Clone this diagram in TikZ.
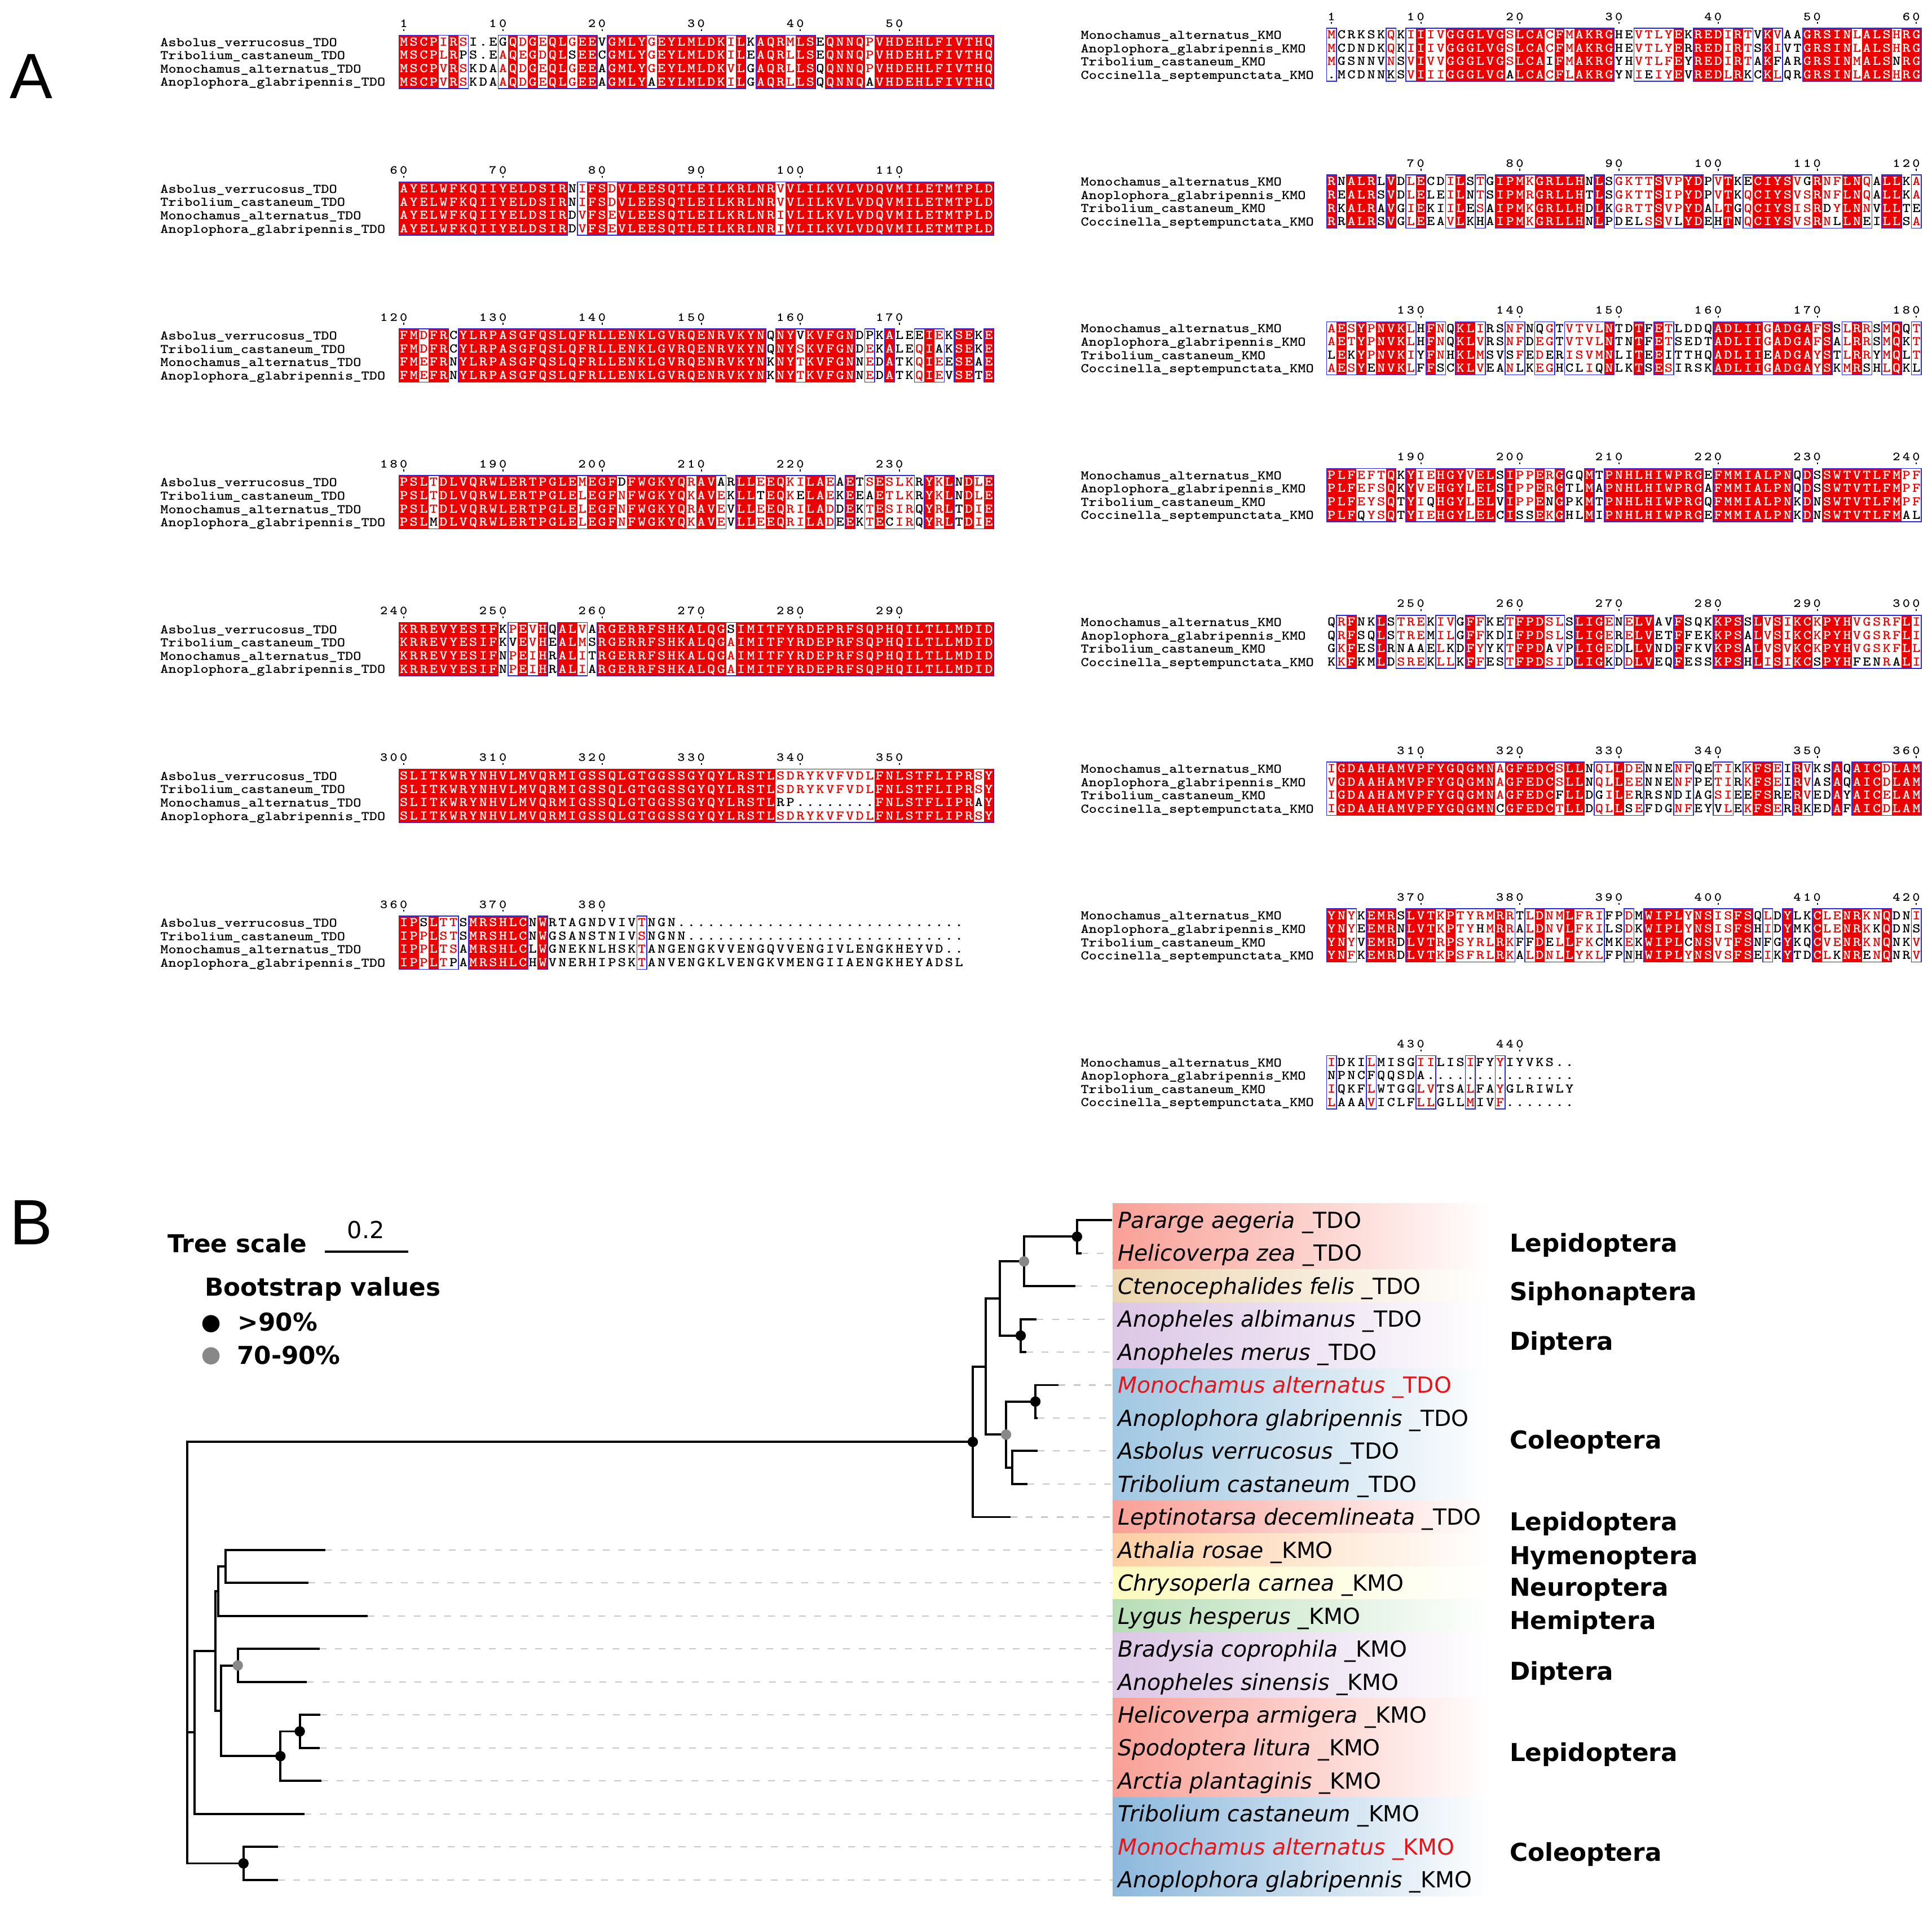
\documentclass[tikz,border=0pt]{standalone}
\usepackage{fontspec}
\setmainfont{DejaVu Sans}
\newfontfamily\panelfont{Liberation Sans}
\newfontfamily\resfont{lmmonolt10-bold}[Extension=.otf,FakeStretch=1.15]
\definecolor{alnred}{RGB}{238,0,0}
\definecolor{alnblue}{RGB}{40,40,235}
\colorlet{alnW}{white}
\colorlet{alnR}{alnred}
\colorlet{alnK}{black}
\definecolor{labred}{RGB}{232,20,25}
\definecolor{cLep}{RGB}{249,160,150}
\definecolor{cSip}{RGB}{236,214,176}
\definecolor{cDip}{RGB}{220,198,230}
\definecolor{cCol}{RGB}{160,199,226}
\definecolor{cColb}{RGB}{140,184,220}
\definecolor{cHym}{RGB}{253,206,162}
\definecolor{cNeu}{RGB}{252,250,190}
\definecolor{cHem}{RGB}{182,222,182}
\definecolor{bsgrey}{RGB}{136,136,136}
\definecolor{leadgrey}{RGB}{200,200,200}
\tikzset{
  alnfill/.style={fill=alnred},
  alnframe/.style={draw=alnblue, line width=0.7pt},
  alnrow/.style={anchor=base west, inner sep=0pt, outer sep=0pt, font=\resfont\fontsize{10.8}{10.8}\selectfont},
  alnname/.style={anchor=base west, inner sep=0pt, font=\resfont\fontsize{10.8}{10.8}\selectfont},
  alnnum/.style={anchor=base east, inner sep=0pt, font=\resfont\fontsize{10}{10}\selectfont},
  alntick/.style={line width=0.9pt},
  panel/.style={anchor=base west, inner sep=0pt, font=\panelfont\fontsize{52}{52}\selectfont},
  branch/.style={line width=1.8pt},
  leader/.style={leadgrey, line width=1pt, dash pattern=on 5.5pt off 7pt},
  splab/.style={anchor=base west, inner sep=0pt, font=\fontsize{18}{18}\selectfont},
  ordlab/.style={anchor=base west, inner sep=0pt, font=\bfseries\fontsize{20}{20}\selectfont},
  legbold/.style={anchor=base west, inner sep=0pt, font=\bfseries\fontsize{20}{20}\selectfont},
  bsblack/.style={circle, fill=black, inner sep=0pt, minimum size=8.4pt},
  bsgreyd/.style={circle, fill=bsgrey, inner sep=0pt, minimum size=8.4pt},
}
\newcommand\alnRect[5]{\path[#1] (#2,#4) rectangle (#3,#5);}
\newcommand\alnRow[4]{\node[alnrow] (#1) at (#2,#3) {#4};}
\ExplSyntaxOn
\str_new:N \l__aln_a_str
\str_new:N \l__aln_b_str
\str_new:N \l__aln_c_str
\str_new:N \l__aln_d_str
\tl_new:N \l__aln_ca_tl
\tl_new:N \l__aln_cb_tl
\tl_new:N \l__aln_cc_tl
\tl_new:N \l__aln_cd_tl
\tl_new:N \l__aln_ga_tl
\tl_new:N \l__aln_gb_tl
\tl_new:N \l__aln_gc_tl
\tl_new:N \l__aln_gd_tl
\tl_new:N \l__aln_ra_tl
\tl_new:N \l__aln_rb_tl
\tl_new:N \l__aln_rc_tl
\tl_new:N \l__aln_rd_tl
\tl_new:N \l__aln_xo_tl
\tl_new:N \l__aln_yo_tl
\tl_new:N \l__aln_x_tl
\tl_new:N \l__aln_xx_tl
\tl_new:N \l__aln_y_tl
\tl_new:N \l__aln_yy_tl
\tl_new:N \l__aln_name_tl
\int_new:N \l__aln_na_int
\int_new:N \l__aln_nb_int
\int_new:N \l__aln_nc_int
\int_new:N \l__aln_nd_int
\int_new:N \l__aln_max_int
\int_new:N \l__aln_cls_int
\int_new:N \l__aln_len_int
\int_new:N \l__aln_rs_int
\int_new:N \l__aln_bs_int
\int_new:N \g__aln_node_int
\tl_const:Nn \c__aln_dot_tl { . }
\cs_new:Npn \__aln_grp:n #1
  {
    \str_case:nnF {#1}
      {
        {I}{h} {L}{h} {V}{h} {M}{h}
        {F}{a} {Y}{a} {W}{a}
        {K}{b} {R}{b}
        {D}{c} {E}{c}
        {N}{n} {Q}{n}
        {S}{s} {T}{s}
      }
      {#1}
  }
\cs_generate_variant:Nn \__aln_grp:n { V }
\cs_new:Npn \__aln_eq:NN #1#2 { \tl_if_eq:NNTF #1 #2 {1} {0} }
\cs_new_protected:Npn \__aln_cell:nn #1#2
  { \hbox_to_wd:nn { 8.045pt } { \hfil \color{aln#1} #2 \hfil } }
\cs_new_protected:Npn \__aln_add:NNN #1#2#3
  {
    \int_case:nnF { \l__aln_cls_int }
      {
        {2} { \tl_put_right:Nx #1 { \exp_not:N \__aln_cell:nn {W} {#2} } }
        {1}
          {
            \int_compare:nNnTF {#3} > {1}
              { \tl_put_right:Nx #1 { \exp_not:N \__aln_cell:nn {R} {#2} } }
              { \tl_put_right:Nx #1 { \exp_not:N \__aln_cell:nn {K} {#2} } }
          }
      }
      { \tl_put_right:Nx #1 { \exp_not:N \__aln_cell:nn {K} {#2} } }
  }
\cs_new_protected:Npn \__aln_rect:nnn #1#2#3
  {
    \tl_set:Nx \l__aln_x_tl { \fp_eval:n { \l__aln_xo_tl + ( (#2) - 1 ) * 8.045 } }
    \tl_set:Nx \l__aln_xx_tl { \fp_eval:n { \l__aln_xo_tl + ( #3 ) * 8.045 } }
    \tl_set:Nx \l__aln_yy_tl { \fp_eval:n { \l__aln_yo_tl + 43.2 } }
    \alnRect {#1} { \l__aln_x_tl } { \l__aln_xx_tl } { \l__aln_yo_tl } { \l__aln_yy_tl }
  }
\cs_new_protected:Npn \__aln_row:Nn #1#2
  {
    \tl_set:Nx \l__aln_y_tl { \fp_eval:n { \l__aln_yo_tl + ( #2 - 0.5 ) * 10.8 + 3.2 } }
    \int_gincr:N \g__aln_node_int
    \tl_set:Nx \l__aln_name_tl { alnrow \int_use:N \g__aln_node_int }
    \alnRow { \l__aln_name_tl } { \l__aln_xo_tl } { \l__aln_y_tl } { #1 }
  }
\cs_new_protected:Npn \__aln_col:n #1
  {
    \tl_set:Nx \l__aln_ca_tl { \str_item:Nn \l__aln_a_str {#1} }
    \tl_set:Nx \l__aln_cb_tl { \str_item:Nn \l__aln_b_str {#1} }
    \tl_set:Nx \l__aln_cc_tl { \str_item:Nn \l__aln_c_str {#1} }
    \tl_set:Nx \l__aln_cd_tl { \str_item:Nn \l__aln_d_str {#1} }
    \tl_set:Nx \l__aln_ga_tl { \__aln_grp:V \l__aln_ca_tl }
    \tl_set:Nx \l__aln_gb_tl { \__aln_grp:V \l__aln_cb_tl }
    \tl_set:Nx \l__aln_gc_tl { \__aln_grp:V \l__aln_cc_tl }
    \tl_set:Nx \l__aln_gd_tl { \__aln_grp:V \l__aln_cd_tl }
    \tl_if_eq:NNT \l__aln_ga_tl \c__aln_dot_tl { \tl_set:Nn \l__aln_ga_tl {1} }
    \tl_if_eq:NNT \l__aln_gb_tl \c__aln_dot_tl { \tl_set:Nn \l__aln_gb_tl {2} }
    \tl_if_eq:NNT \l__aln_gc_tl \c__aln_dot_tl { \tl_set:Nn \l__aln_gc_tl {3} }
    \tl_if_eq:NNT \l__aln_gd_tl \c__aln_dot_tl { \tl_set:Nn \l__aln_gd_tl {4} }
    \int_set:Nn \l__aln_na_int { \__aln_eq:NN \l__aln_ga_tl \l__aln_gb_tl + \__aln_eq:NN \l__aln_ga_tl \l__aln_gc_tl + \__aln_eq:NN \l__aln_ga_tl \l__aln_gd_tl }
    \int_set:Nn \l__aln_nb_int { \__aln_eq:NN \l__aln_gb_tl \l__aln_ga_tl + \__aln_eq:NN \l__aln_gb_tl \l__aln_gc_tl + \__aln_eq:NN \l__aln_gb_tl \l__aln_gd_tl }
    \int_set:Nn \l__aln_nc_int { \__aln_eq:NN \l__aln_gc_tl \l__aln_ga_tl + \__aln_eq:NN \l__aln_gc_tl \l__aln_gb_tl + \__aln_eq:NN \l__aln_gc_tl \l__aln_gd_tl }
    \int_set:Nn \l__aln_nd_int { \__aln_eq:NN \l__aln_gd_tl \l__aln_ga_tl + \__aln_eq:NN \l__aln_gd_tl \l__aln_gb_tl + \__aln_eq:NN \l__aln_gd_tl \l__aln_gc_tl }
    \int_set:Nn \l__aln_max_int { \int_max:nn { \int_max:nn { \l__aln_na_int } { \l__aln_nb_int } } { \int_max:nn { \l__aln_nc_int } { \l__aln_nd_int } } }
    \bool_lazy_all:nTF
      {
        { \tl_if_eq_p:NN \l__aln_ca_tl \l__aln_cb_tl }
        { \tl_if_eq_p:NN \l__aln_ca_tl \l__aln_cc_tl }
        { \tl_if_eq_p:NN \l__aln_ca_tl \l__aln_cd_tl }
        { ! \tl_if_eq_p:NN \l__aln_ca_tl \c__aln_dot_tl }
      }
      { \int_set:Nn \l__aln_cls_int { 2 } }
      {
        \int_compare:nNnTF { \l__aln_max_int } > { 1 }
          { \int_set:Nn \l__aln_cls_int { 1 } }
          { \int_set:Nn \l__aln_cls_int { 0 } }
      }
    \int_compare:nNnTF { \l__aln_cls_int } = { 2 }
      {
        \int_compare:nNnT { \l__aln_rs_int } = { 0 }
          { \int_set:Nn \l__aln_rs_int { #1 } }
      }
      {
        \int_compare:nNnT { \l__aln_rs_int } > { 0 }
          {
            \__aln_rect:nnn { alnfill } { \int_use:N \l__aln_rs_int } { #1 - 1 }
            \int_zero:N \l__aln_rs_int
          }
      }
    \int_compare:nNnTF { \l__aln_cls_int } > { 0 }
      {
        \int_compare:nNnT { \l__aln_bs_int } = { 0 }
          { \int_set:Nn \l__aln_bs_int { #1 } }
      }
      {
        \int_compare:nNnT { \l__aln_bs_int } > { 0 }
          {
            \__aln_rect:nnn { alnframe } { \int_use:N \l__aln_bs_int } { #1 - 1 }
            \int_zero:N \l__aln_bs_int
          }
      }
    \__aln_add:NNN \l__aln_ra_tl \l__aln_ca_tl \l__aln_na_int
    \__aln_add:NNN \l__aln_rb_tl \l__aln_cb_tl \l__aln_nb_int
    \__aln_add:NNN \l__aln_rc_tl \l__aln_cc_tl \l__aln_nc_int
    \__aln_add:NNN \l__aln_rd_tl \l__aln_cd_tl \l__aln_nd_int
  }
\NewDocumentCommand \alnblock { m m m m m m }
  {
    \tl_set:Nn \l__aln_xo_tl {#1}
    \tl_set:Nn \l__aln_yo_tl {#2}
    \str_set:Nn \l__aln_a_str {#3}
    \str_set:Nn \l__aln_b_str {#4}
    \str_set:Nn \l__aln_c_str {#5}
    \str_set:Nn \l__aln_d_str {#6}
    \int_set:Nn \l__aln_len_int { \str_count:N \l__aln_a_str }
    \tl_clear:N \l__aln_ra_tl
    \tl_clear:N \l__aln_rb_tl
    \tl_clear:N \l__aln_rc_tl
    \tl_clear:N \l__aln_rd_tl
    \int_zero:N \l__aln_rs_int
    \int_zero:N \l__aln_bs_int
    \int_step_inline:nn { \l__aln_len_int } { \__aln_col:n {##1} }
    \int_compare:nNnT { \l__aln_rs_int } > { 0 }
      { \__aln_rect:nnn { alnfill } { \int_use:N \l__aln_rs_int } { \int_use:N \l__aln_len_int } }
    \int_compare:nNnT { \l__aln_bs_int } > { 0 }
      { \__aln_rect:nnn { alnframe } { \int_use:N \l__aln_bs_int } { \int_use:N \l__aln_len_int } }
    \__aln_row:Nn \l__aln_ra_tl { 1 }
    \__aln_row:Nn \l__aln_rb_tl { 2 }
    \__aln_row:Nn \l__aln_rc_tl { 3 }
    \__aln_row:Nn \l__aln_rd_tl { 4 }
  }
\cs_new_protected:Npn \__aln_digits:n #1
  { \tl_map_inline:nn {#1} { \hbox_to_wd:nn { 8.045pt } { \hfil ##1 \hfil } } }
\NewDocumentCommand \alndigits { m } { \exp_args:Nx \__aln_digits:n {#1} }
\ExplSyntaxOff
\newcommand\alnnums[4]{%
  \foreach \ac/\an in {#4}{%
    \node[alnnum] (num-#1-\ac) at ({#2+\ac*8.045},{#3-6.3}) {\alndigits{\an}};
    \draw[alntick] ({#2+(\ac-0.5)*8.045},{#3-4.9}) -- ++(0,1.5);
  }}
\newcommand\alnnames[7]{%
  \node[alnname] (#1a) at (#2,{#3+9.0}) {#4};
  \node[alnname] (#1b) at (#2,{#3+19.8}) {#5};
  \node[alnname] (#1c) at (#2,{#3+30.6}) {#6};
  \node[alnname] (#1d) at (#2,{#3+41.4}) {#7};}
\newcommand\splab[5]{\node[splab,text=#5] (#1) at (907,{#2+6.5}) {{\itshape #3} \_#4};}
\begin{document}
\begin{tikzpicture}[x=1pt,y=-1pt]
\path[use as bounding box, fill=white] (0,0) rectangle (1568,1553.8);
\node[panel] (panelA) at (8,80) {A};
\node[panel] (panelB) at (8,1010) {B};
% ---------------- left alignment (TDO)
\alnnames{nL1}{130}{28.6}{Asbolus\_verrucosus\_TDO}{Tribolium\_castaneum\_TDO}{Monochamus\_alternatus\_TDO}{Anoplophora\_glabripennis\_TDO}
\alnnums{L1}{323.8}{28.6}{1/1,11/10,21/20,31/30,41/40,51/50}
\alnblock{323.8}{28.6}
{MSCPIRSI.EGQDGEQLGEEVGMLYGEYLMLDKILKAQRMLSEQNNQPVHDEHLFIVTHQ}
{MSCPLRPS.EAQEGDQLSEECGMLYGEYLMLDKILEAQRLLSEQNNQPVHDEHLFIVTHQ}
{MSCPVRSKDAAQDGEQLGEEAGMLYGEYLMLDKVLGAQRLLSQQNNQPVHDEHLFIVTHQ}
{MSCPVRSKDAAQDGEQLGEEAGMLYAEYLMLDKILGAQRLLSQQNNQAVHDEHLFIVTHQ}
\alnnames{nL2}{130}{147.7}{Asbolus\_verrucosus\_TDO}{Tribolium\_castaneum\_TDO}{Monochamus\_alternatus\_TDO}{Anoplophora\_glabripennis\_TDO}
\alnnums{L2}{323.8}{147.7}{1/60,11/70,21/80,31/90,41/100,51/110}
\alnblock{323.8}{147.7}
{AYELWFKQIIYELDSIRNIFSDVLEESQTLEILKRLNRVVLILKVLVDQVMILETMTPLD}
{AYELWFKQIIYELDSIRNIFSDVLEESQTLEILKRLNRVVLILKVLVDQVMILETMTPLD}
{AYELWFKQIIYELDSIRDVFSEVLEESQTLEILKRLNRIVLILKVLVDQVMILETMTPLD}
{AYELWFKQIIYELDSIRDVFSEVLEESQTLEILKRLNRIVLILKVLVDQVMILETMTPLD}
\alnnames{nL3}{130}{266.8}{Asbolus\_verrucosus\_TDO}{Tribolium\_castaneum\_TDO}{Monochamus\_alternatus\_TDO}{Anoplophora\_glabripennis\_TDO}
\alnnums{L3}{323.8}{266.8}{1/120,11/130,21/140,31/150,41/160,51/170}
\alnblock{323.8}{266.8}
{FMDFRCYLRPASGFQSLQFRLLENKLGVRQENRVKYNQNYVKVFGNDPKALEEIEKSEKE}
{FMDFRCYLRPASGFQSLQFRLLENKLGVRQENRVKYNQNYSKVFGNDEKALEQIAKSEKE}
{FMEFRNYLRPASGFQSLQFRLLENKLGVRQENRVKYNKNYTKVFGNNEDATKQIEESEAE}
{FMEFRNYLRPASGFQSLQFRLLENKLGVRQENRVKYNKNYTKVFGNNEDATKQIEVSETE}
\alnnames{nL4}{130}{385.9}{Asbolus\_verrucosus\_TDO}{Tribolium\_castaneum\_TDO}{Monochamus\_alternatus\_TDO}{Anoplophora\_glabripennis\_TDO}
\alnnums{L4}{323.8}{385.9}{1/180,11/190,21/200,31/210,41/220,51/230}
\alnblock{323.8}{385.9}
{PSLTDLVQRWLERTPGLEMEGFDFWGKYQRAVARLLEEQKILAEAETSESLKRYKLNDLE}
{PSLTDLVQRWLERTPGLELEGFNFWGKYQKAVEKLLTEQKELAEKEEAETLKRYKLNDLE}
{PSLTDLVQRWLERTPGLELEGFNFWGKYQRAVEVLLEEQRILADDEKTESIRQYRLTDIE}
{PSLMDLVQRWLERTPGLELEGFNFWGKYQKAVEVLLEEQRILADEEKTECIRQYRLTDIE}
\alnnames{nL5}{130}{505.0}{Asbolus\_verrucosus\_TDO}{Tribolium\_castaneum\_TDO}{Monochamus\_alternatus\_TDO}{Anoplophora\_glabripennis\_TDO}
\alnnums{L5}{323.8}{505.0}{1/240,11/250,21/260,31/270,41/280,51/290}
\alnblock{323.8}{505.0}
{KRREVYESIFKPEVHQALVARGERRFSHKALQGSIMITFYRDEPRFSQPHQILTLLMDID}
{KRREVYESIFKVEVHEALMSRGERRFSHKALQGAIMITFYRDEPRFSQPHQILTLLMDID}
{KRREVYESIFNPEIHRALITRGERRFSHKALQGAIMITFYRDEPRFSQPHQILTLLMDID}
{KRREVYESIFNPEIHRALIARGERRFSHKALQGAIMITFYRDEPRFSQPHQILTLLMDID}
\alnnames{nL6}{130}{624.1}{Asbolus\_verrucosus\_TDO}{Tribolium\_castaneum\_TDO}{Monochamus\_alternatus\_TDO}{Anoplophora\_glabripennis\_TDO}
\alnnums{L6}{323.8}{624.1}{1/300,11/310,21/320,31/330,41/340,51/350}
\alnblock{323.8}{624.1}
{SLITKWRYNHVLMVQRMIGSSQLGTGGSSGYQYLRSTLSDRYKVFVDLFNLSTFLIPRSY}
{SLITKWRYNHVLMVQRMIGSSQLGTGGSSGYQYLRSTLSDRYKVFVDLFNLSTFLIPRSY}
{SLITKWRYNHVLMVQRMIGSSQLGTGGSSGYQYLRSTLRP........FNLSTFLIPRAY}
{SLITKWRYNHVLMVQRMIGSSQLGTGGSSGYQYLRSTLSDRYKVFVDLFNLSTFLIPRSY}
\alnnames{nL7}{130}{743.2}{Asbolus\_verrucosus\_TDO}{Tribolium\_castaneum\_TDO}{Monochamus\_alternatus\_TDO}{Anoplophora\_glabripennis\_TDO}
\alnnums{L7}{323.8}{743.2}{1/360,11/370,21/380}
\alnblock{323.8}{743.2}
{IPSLTTSMRSHLCNWRTAGNDVIVTNGN.............................}
{IPPLSTSMRSHLCNWGSANSTNIVSNGNN............................}
{IPPLTSAMRSHLCLWGNEKNLHSKTANGENGKVVENGQVVENGIVLENGKHEYVD..}
{IPPLTPAMRSHLCHWVNERHIPSKTANVENGKLVENGKVMENGIIAENGKHEYADSL}
% ---------------- right alignment (KMO)
\alnnames{nR1}{877}{22.8}{Monochamus\_alternatus\_KMO}{Anoplophora\_glabripennis\_KMO}{Tribolium\_castaneum\_KMO}{Coccinella\_septempunctata\_KMO}
\alnnums{R1}{1076.7}{22.8}{1/1,10/10,20/20,30/30,40/40,50/50,60/60}
\alnblock{1076.7}{22.8}
{MCRKSKQKIIIVGGGLVGSLCACFMAKRGHEVTLYEKREDIRTVKVAAGRSINLALSHRG}
{MCDNDKQKIIIVGGGLVGSLCACFMAKRGHEVTLYERREDIRTSKIVTGRSINLALSHRG}
{MGSNNVNSVIVVGGGLVGSLCAIFMAKRGYHVTLFEYREDIRTAKFARGRSINMALSNRG}
{.MCDNNKSVIIIGGGLVGALCACFLAKRGYNIEIYEVREDLRKCKLQRGRSINLALSHRG}
\alnnames{nR2}{877}{141.9}{Monochamus\_alternatus\_KMO}{Anoplophora\_glabripennis\_KMO}{Tribolium\_castaneum\_KMO}{Coccinella\_septempunctata\_KMO}
\alnnums{R2}{1076.7}{141.9}{10/70,20/80,30/90,40/100,50/110,60/120}
\alnblock{1076.7}{141.9}
{RNALRLVDLECDILSTGIPMKGRLLHNLSGKTTSVPYDPVTKECIYSVGRNFLNQALLKA}
{REALRSVDLELEILNTSIPMRGRLLHTLSGKTTSIPYDPVTKQCIYSVSRNFLNQALLKA}
{RKALRAVGIEKIILESAIPMKGRLLHDLKGRTTSVPYDALTGQCIYSISRDYLNNVLLTE}
{RRALRSVGLEEAVLKHAIPMKGRLLHNLPDELSSVLYDEHTNQCIYSVSRNLLNEILLSA}
\alnnames{nR3}{877}{261.0}{Monochamus\_alternatus\_KMO}{Anoplophora\_glabripennis\_KMO}{Tribolium\_castaneum\_KMO}{Coccinella\_septempunctata\_KMO}
\alnnums{R3}{1076.7}{261.0}{10/130,20/140,30/150,40/160,50/170,60/180}
\alnblock{1076.7}{261.0}
{AESYPNVKLHFNQKLIRSNFNQGTVTVLNTDTFETLDDQADLIIGADGAFSSLRRSMQQT}
{AETYPNVKLHFNQKLVRSNFDEGTVTVLNTNTFETSEDTADLIIGADGAFSALRRSMQKT}
{LEKYPNVKIYFNHKLMSVSFEDERISVMNLITEEITTHQADLIIEADGAYSTLRRYMQLT}
{AESYENVKLFFSCKLVEANLKEGHCLIQNLKTSESIRSKADLIIGADGAYSKMRSHLQKL}
\alnnames{nR4}{877}{380.1}{Monochamus\_alternatus\_KMO}{Anoplophora\_glabripennis\_KMO}{Tribolium\_castaneum\_KMO}{Coccinella\_septempunctata\_KMO}
\alnnums{R4}{1076.7}{380.1}{10/190,20/200,30/210,40/220,50/230,60/240}
\alnblock{1076.7}{380.1}
{PLFEFTQKYIEHGYVELSIPPERGGQMTPNHLHIWPRGEFMMIALPNQDSSWTVTLFMPF}
{PLFEFSQKYVEHGYLELSIPPERGTLMAPNHLHIWPRGAFMMIALPNQDSSWTVTLFMPF}
{PLFEYSQTYIQHGYLELVIPPENGPKMTPNHLHIWPRGQFMMIALPNKDNSWTVTLFMPF}
{PLFQYSQTYIEHGYLELCISSEKGHLMIPNHLHIWPRGEFMMIALPNKDNSWTVTLFMAL}
\alnnames{nR5}{877}{499.2}{Monochamus\_alternatus\_KMO}{Anoplophora\_glabripennis\_KMO}{Tribolium\_castaneum\_KMO}{Coccinella\_septempunctata\_KMO}
\alnnums{R5}{1076.7}{499.2}{10/250,20/260,30/270,40/280,50/290,60/300}
\alnblock{1076.7}{499.2}
{QRFNKLSTREKIVGFFKETFPDSLSLIGENELVAVFSQKKPSSLVSIKCKPYHVGSRFLI}
{QRFSQLSTREMILGFFKDIFPDSLSLIGERELVETFFEKKPSALVSIKCKPYHVGSRFLI}
{GKFESLRNAAELKDFYYKTFPDAVPLIGEDLLVNDFFKVKPSALVSVKCKPYHVGSKFLL}
{KKFKMLDSREKLLKFFESTFPDSIDLIGKDDLVEQFESSKPSHLISIKCSPYHFENRALI}
\alnnames{nR6}{877}{618.3}{Monochamus\_alternatus\_KMO}{Anoplophora\_glabripennis\_KMO}{Tribolium\_castaneum\_KMO}{Coccinella\_septempunctata\_KMO}
\alnnums{R6}{1076.7}{618.3}{10/310,20/320,30/330,40/340,50/350,60/360}
\alnblock{1076.7}{618.3}
{IGDAAHAMVPFYGQGMNAGFEDCSLLNQLLDENNENFQETIKKFSEIRVKSAQAICDLAM}
{VGDAAHAMVPFYGQGMNAGFEDCSLLNQLLEENNENFPETIRKFSEIRVASAQAICDLAM}
{IGDAAHAMVPFYGQGMNAGFEDCFLLDGILERRSNDIAGSIEEFSRERVEDAYAICELAM}
{IGDAAHAMVPFYGQGMNCGFEDCTLLDQLLSEFDGNFEYVLEKFSERRKEDAFAICDLAM}
\alnnames{nR7}{877}{737.4}{Monochamus\_alternatus\_KMO}{Anoplophora\_glabripennis\_KMO}{Tribolium\_castaneum\_KMO}{Coccinella\_septempunctata\_KMO}
\alnnums{R7}{1076.7}{737.4}{10/370,20/380,30/390,40/400,50/410,60/420}
\alnblock{1076.7}{737.4}
{YNYKEMRSLVTKPTYRMRRTLDNMLFRIFPDMWIPLYNSISFSQLDYLKCLENRKNQDNI}
{YNYEEMRNLVTKPTYHMRRALDNVLFKILSDKWIPLYNSISFSHIDYMKCLENRKKQDNS}
{YNYVEMRDLVTRPSYRLRKFFDELLFKCMKEKWIPLCNSVTFSNFGYKQCVENRKNQNKV}
{YNFKEMRDLVTKPSFRLRKALDNLLYKLFPNHWIPLYNSVSFSEIKYTDCLKNRENQNRV}
\alnnames{nR8}{877}{856.5}{Monochamus\_alternatus\_KMO}{Anoplophora\_glabripennis\_KMO}{Tribolium\_castaneum\_KMO}{Coccinella\_septempunctata\_KMO}
\alnnums{R8}{1076.7}{856.5}{10/430,20/440}
\alnblock{1076.7}{856.5}
{IDKILMISGIILISIFYYIYVKS..}
{NPNCFQQSDA...............}
{IQKFLWTGGLVTSALFAYGLRIWLY}
{LAAAVICLFLLGLLMIVF.......}
% ---------------- panel B: colour bands
\shade[left color=cLep, right color=white] (903,976.6) rectangle (1210,1030.2);
\shade[left color=cSip, right color=white] (903,1030.2) rectangle (1210,1056.9);
\shade[left color=cDip, right color=white] (903,1056.9) rectangle (1210,1110.4);
\shade[left color=cCol, right color=white] (903,1110.4) rectangle (1210,1217.5);
\shade[left color=cLep, right color=white] (903,1217.5) rectangle (1210,1244.2);
\shade[left color=cHym, right color=white] (903,1244.2) rectangle (1210,1271.0);
\shade[left color=cNeu, right color=white] (903,1271.0) rectangle (1210,1297.8);
\shade[left color=cHem, right color=white] (903,1297.8) rectangle (1210,1324.5);
\shade[left color=cDip, right color=white] (903,1324.5) rectangle (1210,1378.0);
\shade[left color=cLep, right color=white] (903,1378.0) rectangle (1210,1458.4);
\shade[left color=cColb, right color=white] (903,1458.4) rectangle (1210,1538.6);
% tree coordinates
\coordinate (band) at (903,0);
\coordinate (L1) at (902.4,990.0);
\coordinate (L2) at (877.6,1016.8);
\coordinate (L3) at (872.6,1043.5);
\coordinate (L4) at (841.3,1070.3);
\coordinate (L5) at (832.9,1097.1);
\coordinate (L6) at (858.9,1123.8);
\coordinate (L7) at (841.9,1150.6);
\coordinate (L8) at (841.9,1177.3);
\coordinate (L9) at (833.7,1204.1);
\coordinate (L10) at (820.0,1230.9);
\coordinate (L11) at (264.2,1257.6);
\coordinate (L12) at (250.5,1284.4);
\coordinate (L13) at (298.3,1311.2);
\coordinate (L14) at (259.4,1337.9);
\coordinate (L15) at (249.1,1364.7);
\coordinate (L16) at (260.1,1391.4);
\coordinate (L17) at (259.4,1418.2);
\coordinate (L18) at (260.9,1445.0);
\coordinate (L19) at (247.1,1471.7);
\coordinate (L20) at (225.8,1498.5);
\coordinate (L21) at (225.5,1525.3);
\coordinate (T0) at (789.5,1169.9);
\coordinate (T1) at (800.2,1108.8);
\coordinate (T2) at (811.6,1053.6);
\coordinate (T3) at (831.1,1023.5);
\coordinate (T3a) at (874.1,1003.4);
\coordinate (T4) at (828.4,1083.7);
\coordinate (T5) at (816.5,1164.0);
\coordinate (T6) at (840.3,1137.2);
\coordinate (T7) at (821.5,1190.7);
\coordinate (R) at (152.1,1169.9);
\coordinate (K1) at (157.9,1405.7);
\coordinate (K2) at (174.7,1339.6);
\coordinate (K2b) at (177.3,1291.1);
\coordinate (K4) at (183.1,1271.0);
\coordinate (K3) at (179.2,1388.1);
\coordinate (K5) at (193.0,1351.3);
\coordinate (K6) at (227.6,1424.9);
\coordinate (K7) at (243.3,1404.8);
\coordinate (Kc) at (197.6,1511.9);
% leaders
\foreach \i in {2,...,21} \draw[leader] (L\i) -- (L\i -| band);
% branches
\draw[branch] (L1) -| (T3a) |- (L2);
\draw[branch] (T3a) -| (T3) |- (L3);
\draw[branch] (L4) -| (T4) |- (L5);
\draw[branch] (T3) -| (T2) |- (T4);
\draw[branch] (L6) -| (T6) |- (L7);
\draw[branch] (L8) -| (T7) |- (L9);
\draw[branch] (T6) -| (T5) |- (T7);
\draw[branch] (T2) -| (T1) |- (T5);
\draw[branch] (T1) -| (T0) |- (L10);
\draw[branch] (T0) -| (R) |- (Kc);
\draw[branch] (R) |- (K1);
\draw[branch] (L11) -| (K4) |- (L12);
\draw[branch] (K4) -| (K2b) |- (L13);
\draw[branch] (L14) -| (K5) |- (L15);
\draw[branch] (L16) -| (K7) |- (L17);
\draw[branch] (K7) -| (K6) |- (L18);
\draw[branch] (K5) -| (K3) |- (K6);
\draw[branch] (K2b) -| (K2) |- (K3);
\draw[branch] (K2) -| (K1) |- (L19);
\draw[branch] (L20) -| (Kc) |- (L21);
% bootstrap dots
\node[bsblack] (dT0) at (T0) {};
\node[bsgreyd] (dT3) at (T3) {};
\node[bsblack] (dT3a) at (T3a) {};
\node[bsblack] (dT4) at (T4) {};
\node[bsgreyd] (dT5) at (T5) {};
\node[bsblack] (dT6) at (T6) {};
\node[bsblack] (dKc) at (Kc) {};
\node[bsgreyd] (dK5) at (K5) {};
\node[bsblack] (dK6) at (K6) {};
\node[bsblack] (dK7) at (K7) {};
% species labels
\splab{s1}{990.0}{Pararge aegeria}{TDO}{black}
\splab{s2}{1016.8}{Helicoverpa zea}{TDO}{black}
\splab{s3}{1043.5}{Ctenocephalides felis}{TDO}{black}
\splab{s4}{1070.3}{Anopheles albimanus}{TDO}{black}
\splab{s5}{1097.1}{Anopheles merus}{TDO}{black}
\splab{s6}{1123.8}{Monochamus alternatus}{TDO}{labred}
\splab{s7}{1150.6}{Anoplophora glabripennis}{TDO}{black}
\splab{s8}{1177.3}{Asbolus verrucosus}{TDO}{black}
\splab{s9}{1204.1}{Tribolium castaneum}{TDO}{black}
\splab{s10}{1230.9}{Leptinotarsa decemlineata}{TDO}{black}
\splab{s11}{1257.6}{Athalia rosae}{KMO}{black}
\splab{s12}{1284.4}{Chrysoperla carnea}{KMO}{black}
\splab{s13}{1311.2}{Lygus hesperus}{KMO}{black}
\splab{s14}{1337.9}{Bradysia coprophila}{KMO}{black}
\splab{s15}{1364.7}{Anopheles sinensis}{KMO}{black}
\splab{s16}{1391.4}{Helicoverpa armigera}{KMO}{black}
\splab{s17}{1418.2}{Spodoptera litura}{KMO}{black}
\splab{s18}{1445.0}{Arctia plantaginis}{KMO}{black}
\splab{s19}{1471.7}{Tribolium castaneum}{KMO}{black}
\splab{s20}{1498.5}{Monochamus alternatus}{KMO}{labred}
\splab{s21}{1525.3}{Anoplophora glabripennis}{KMO}{black}
% order labels
\node[ordlab] (o1) at (1225,1015.7) {Lepidoptera};
\node[ordlab] (o2) at (1225,1055.0) {Siphonaptera};
\node[ordlab] (o3) at (1225,1095.5) {Diptera};
\node[ordlab] (o4) at (1225,1175.5) {Coleoptera};
\node[ordlab] (o5) at (1225,1241.7) {Lepidoptera};
\node[ordlab] (o6) at (1225,1269.3) {Hymenoptera};
\node[ordlab] (o7) at (1225,1294.9) {Neuroptera};
\node[ordlab] (o8) at (1225,1321.8) {Hemiptera};
\node[ordlab] (o9) at (1225,1363.0) {Diptera};
\node[ordlab] (o10) at (1225,1429.1) {Lepidoptera};
\node[ordlab] (o11) at (1225,1509.9) {Coleoptera};
% legend
\node[legbold] (treescale) at (136,1016.2) {Tree scale};
\coordinate (sb1) at (263.6,1015.5);
\coordinate (sb2) at (331.2,1015.5);
\draw[line width=1.8pt] (sb1) -- (sb2);
\node[anchor=base, inner sep=0pt, font=\fontsize{19}{19}\selectfont] (scaleval) at (297,1005) {0.2};
\node[legbold] (bsv) at (166,1051.4) {Bootstrap values};
\node[circle, fill=black, inner sep=0pt, minimum size=14pt] (leg90) at (171.2,1074) {};
\node[legbold] (leg90t) at (192.9,1080) {>90\%};
\node[circle, fill=bsgrey, inner sep=0pt, minimum size=14pt] (leg70) at (171.2,1100.1) {};
\node[legbold] (leg70t) at (192.1,1106.9) {70-90\%};
\end{tikzpicture}
\end{document}
